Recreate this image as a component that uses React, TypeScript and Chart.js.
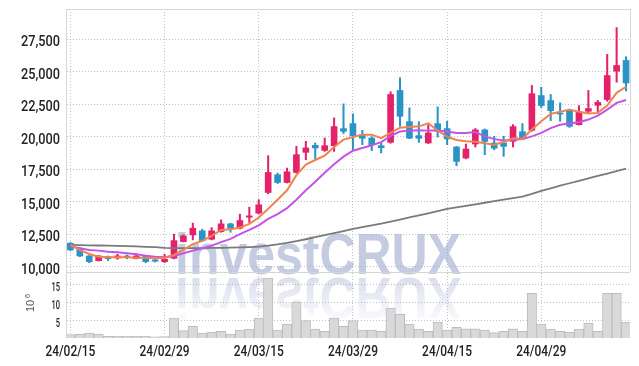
import React, { useEffect, useRef } from "react";
import { Chart, registerables } from "chart.js";

Chart.register(...registerables);

const dates = [
  "24/02/15", "24/02/16", "24/02/19", "24/02/20", "24/02/21", "24/02/22", "24/02/23", "24/02/26", "24/02/27", "24/02/28",
  "24/02/29", "24/03/04", "24/03/05", "24/03/06", "24/03/07", "24/03/08", "24/03/11", "24/03/12", "24/03/13", "24/03/14",
  "24/03/15", "24/03/18", "24/03/19", "24/03/20", "24/03/21", "24/03/22", "24/03/25", "24/03/26", "24/03/27", "24/03/28",
  "24/03/29", "24/04/01", "24/04/02", "24/04/03", "24/04/04", "24/04/05", "24/04/08", "24/04/09", "24/04/11", "24/04/12",
  "24/04/15", "24/04/16", "24/04/17", "24/04/18", "24/04/19", "24/04/22", "24/04/23", "24/04/24", "24/04/25", "24/04/26",
  "24/04/29", "24/04/30", "24/05/02", "24/05/03", "24/05/07", "24/05/08", "24/05/09", "24/05/10", "24/05/13", "24/05/14",
];

const opens = [
  11805, 11420, 10825, 10460, 10770, 10670, 10825, 10620, 10825, 10520,
  10385, 10650, 11930, 12445, 12755, 12110, 12700, 13295, 12960, 13810,
  14120, 15710, 17075, 16480, 17250, 18800, 19340, 18950, 19310, 20625,
  21010, 20160, 19900, 19310, 19570, 23560, 21165, 20085, 19520, 21010,
  20625, 19210, 18360, 19440, 20525, 19520, 19520, 19645, 20390, 20495,
  23170, 22785, 21820, 21960, 20930, 21960, 22415, 22860, 25045, 25870,
];

const highs = [
  11860, 11460, 10860, 10860, 10825, 10957, 10900, 10980, 10880, 10570,
  10957, 12500, 12450, 13350, 12885, 13010, 13600, 13350, 14040, 14580,
  15150, 18540, 17200, 17590, 19260, 19650, 19520, 19900, 21450, 22530,
  21760, 20490, 20000, 19570, 23460, 24540, 22220, 21165, 20930, 22300,
  21190, 19250, 19440, 20630, 20600, 20030, 20030, 20930, 21010, 23945,
  23810, 23250, 22610, 22050, 22400, 23560, 22800, 26335, 28395, 26160,
];

const lows = [
  11230, 10770, 10310, 10430, 10460, 10570, 10600, 10600, 10310, 10360,
  10310, 10600, 11900, 12060, 11930, 12060, 12650, 12650, 12900, 13400,
  14050, 15610, 16400, 16440, 17200, 18230, 18290, 18870, 18870, 20240,
  19000, 19390, 18930, 18750, 19500, 20800, 19850, 19570, 19480, 19980,
  19390, 17770, 18300, 19210, 18620, 19000, 18490, 19210, 19780, 20420,
  22250, 21240, 21190, 20720, 20900, 21800, 21810, 22730, 24200, 23520,
];

const closes = [
  11290, 10825, 10385, 10825, 10620, 10825, 10694, 10825, 10385, 10420,
  10570, 12005, 12370, 12960, 12005, 12755, 13295, 12960, 13550, 13910,
  14760, 17250, 16480, 17300, 18620, 19135, 19135, 19310, 20780, 20415,
  20085, 19880, 19390, 19160, 23250, 21575, 19890, 19880, 20290, 20420,
  19830, 18100, 19060, 20525, 19645, 19120, 19260, 20780, 19840, 23310,
  22400, 22010, 21745, 20800, 21910, 22170, 22650, 24710, 25485, 24135,
];

// volume in millions of shares
const volumes = [
  0.95, 1.0, 1.4, 1.1, 0.47, 0.47, 0.45, 0.45, 0.45, 0.3,
  0.4, 5.6, 2.1, 3.3, 1.4, 1.7, 1.9, 1.1, 2.25, 2.5,
  5.6, 16.9, 2.25, 3.9, 10.1, 4.9, 2.5, 1.9, 5.6, 3.3,
  4.9, 2.25, 2.25, 1.9, 8.4, 6.7, 3.9, 2.5, 1.9, 4.5,
  2.25, 3.0, 2.6, 2.6, 2.25, 1.5, 1.9, 2.6, 1.9, 12.6,
  3.9, 2.5, 1.9, 1.7, 2.5, 4.2, 1.9, 12.6, 12.6, 4.5,
];

const maShort = [
  11670, 11290, 10980, 10770, 10725, 10725, 10725, 10695, 10695, 10650,
  10695, 10900, 11290, 11730, 11980, 12370, 12830, 12885, 13010, 13295,
  13780, 14450, 15150, 15880, 17040, 17850, 18210, 18540, 19210, 19775,
  19985, 20160, 20160, 19890, 20290, 20700, 20740, 20800, 21035, 20470,
  20010, 19755, 19645, 19620, 19490, 19390, 19600, 19875, 19840, 20550,
  21190, 21760, 21915, 22090, 21915, 21780, 21835, 22400, 23380, 23845,
];

const maMid = [
  11545, 11420, 11290, 11235, 11155, 11110, 11035, 10955, 10850, 10770,
  10725, 10825, 11035, 11235, 11420, 11620, 11885, 12135, 12500, 12830,
  13180, 13680, 14050, 14505, 15145, 15880, 16535, 17230, 17885, 18465,
  18925, 19135, 19350, 19585, 20060, 20395, 20470, 20495, 20470, 20470,
  20395, 20280, 20280, 20355, 20030, 19815, 19715, 19740, 19815, 20030,
  20295, 20665, 20920, 21010, 21110, 21320, 21630, 22090, 22610, 22825,
];

const maLong = [
  11670, 11660, 11645, 11630, 11615, 11600, 11580, 11560, 11530, 11500,
  11450, 11430, 11420, 11420, 11430, 11440, 11450, 11470, 11490, 11510,
  11540, 11620, 11720, 11830, 11960, 12110, 12270, 12430, 12580, 12740,
  12900, 13040, 13170, 13310, 13470, 13630, 13790, 13950, 14110, 14270,
  14440, 14560, 14680, 14800, 14920, 15040, 15160, 15270, 15390, 15600,
  15830, 16030, 16230, 16420, 16610, 16800, 16990, 17170, 17360, 17540,
];

const xTickIndices = [0, 10, 20, 30, 40, 50];
const priceTicks = [10000, 12500, 15000, 17500, 20000, 22500, 25000, 27500];
const volumeTicks = [5, 10, 15];

const LABEL_FONT = '"Roboto", "Liberation Sans", sans-serif';
const UP = "#e3226b";
const DOWN = "#2b94c6";
const GRID = "rgba(165,170,200,0.75)";

function squeezedText(
  ctx: CanvasRenderingContext2D,
  text: string,
  x: number,
  y: number,
  font: string,
  targetWidthOfSample: number,
  sample: string,
  align: CanvasTextAlign
) {
  ctx.save();
  ctx.font = font;
  const sx = targetWidthOfSample / ctx.measureText(sample).width;
  ctx.translate(x, y);
  ctx.scale(sx, 1);
  ctx.textAlign = align;
  ctx.textBaseline = "alphabetic";
  ctx.fillText(text, 0, 0);
  ctx.restore();
}

export default function App() {
  const ref = useRef<HTMLCanvasElement | null>(null);

  useEffect(() => {
    if (!ref.current) return;
    const idx = dates.map((_, i) => i);
    const candleColors = idx.map((i) => (closes[i] >= opens[i] ? UP : DOWN));

    const decor = {
      id: "decor",
      beforeDatasetsDraw(chart: any) {
        const ctx = chart.ctx as CanvasRenderingContext2D;
        const a = chart.chartArea;
        ctx.save();
        ctx.beginPath();
        ctx.rect(a.left, a.top, a.right - a.left, a.bottom - a.top);
        ctx.clip();
        ctx.font = 'bold 58px "Liberation Sans", "DejaVu Sans", sans-serif';
        ctx.textAlign = "left";
        ctx.textBaseline = "alphabetic";
        ctx.fillStyle = "rgba(150,162,200,0.55)";
        ctx.fillText("investCRUX", 175, 274, 286);
        ctx.translate(0, 552);
        ctx.scale(1, -1);
        const g = ctx.createLinearGradient(0, 274, 0, 236);
        g.addColorStop(0, "rgba(150,162,200,0.34)");
        g.addColorStop(1, "rgba(150,162,200,0.08)");
        ctx.fillStyle = g;
        ctx.fillText("investCRUX", 175, 274, 286);
        ctx.restore();
      },
      afterDraw(chart: any) {
        const ctx = chart.ctx as CanvasRenderingContext2D;
        const a = chart.chartArea;
        const ys = chart.scales.y;
        const yv = chart.scales.yv;
        const xs = chart.scales.x;
        const sep = ys.bottom;
        ctx.save();
        ctx.strokeStyle = "#d6d6d6";
        ctx.lineWidth = 1;
        ctx.beginPath();
        ctx.moveTo(a.left - 0.5, a.top);
        ctx.lineTo(a.left - 0.5, a.bottom);
        ctx.moveTo(a.left, a.top + 0.5);
        ctx.lineTo(a.right, a.top + 0.5);
        ctx.moveTo(a.right + 0.5, a.top);
        ctx.lineTo(a.right + 0.5, sep);
        ctx.moveTo(a.left, Math.round(sep) + 0.5);
        ctx.lineTo(a.right, Math.round(sep) + 0.5);
        ctx.stroke();
        ctx.restore();

        // tick labels (condensed look)
        ctx.save();
        ctx.fillStyle = "#222";
        const pf = `500 14px ${LABEL_FONT}`;
        for (const v of priceTicks) {
          const py = ys.getPixelForValue(v);
          squeezedText(ctx, v.toLocaleString("en-US"), 60, py + 7, pf, 39, "27,500", "right");
        }
        const vf = `500 13px ${LABEL_FONT}`;
        for (const v of volumeTicks) {
          const py = yv.getPixelForValue(v);
          squeezedText(ctx, String(v), 60, py + 6.5, vf, 8.5, "15", "right");
        }
        const df = `500 15px ${LABEL_FONT}`;
        for (const i of xTickIndices) {
          const px = xs.getPixelForValue(i);
          squeezedText(ctx, dates[i], px, 356, df, 50, "24/02/15", "center");
        }
        ctx.restore();

        // volume unit label
        ctx.save();
        ctx.translate(34, 312);
        ctx.rotate(-Math.PI / 2);
        ctx.fillStyle = "#555";
        ctx.textAlign = "left";
        ctx.textBaseline = "alphabetic";
        ctx.font = '11px "Liberation Sans", sans-serif';
        ctx.fillText("10", 0, 0);
        const w = ctx.measureText("10").width;
        ctx.font = '8px "Liberation Sans", sans-serif';
        ctx.fillText("6", w + 1.5, -4);
        ctx.restore();
      },
    };

    const zeroPad = (s: any) => {
      s.paddingTop = 0;
      s.paddingBottom = 0;
      s.paddingLeft = 0;
      s.paddingRight = 0;
    };

    const chart = new Chart(ref.current, {
      data: {
        datasets: [
          {
            type: "line",
            label: "MA short",
            data: idx.map((i) => ({ x: i, y: maShort[i] })),
            yAxisID: "y",
            borderColor: "#ef8350",
            borderWidth: 2,
            pointRadius: 0,
            fill: false,
            order: 0,
          },
          {
            type: "line",
            label: "MA mid",
            data: idx.map((i) => ({ x: i, y: maMid[i] })),
            yAxisID: "y",
            borderColor: "#c653e6",
            borderWidth: 2,
            pointRadius: 0,
            fill: false,
            order: 1,
          },
          {
            type: "line",
            label: "MA long",
            data: idx.map((i) => ({ x: i, y: maLong[i] })),
            yAxisID: "y",
            borderColor: "#7a7a7a",
            borderWidth: 1.8,
            pointRadius: 0,
            fill: false,
            order: 2,
          },
          {
            type: "bar",
            label: "body",
            data: idx.map((i) => ({ x: i, y: [opens[i], closes[i]] })),
            yAxisID: "y",
            backgroundColor: candleColors,
            borderWidth: 0,
            barThickness: 6,
            grouped: false,
            order: 3,
          },
          {
            type: "bar",
            label: "wick",
            data: idx.map((i) => ({ x: i, y: [lows[i], highs[i]] })),
            yAxisID: "y",
            backgroundColor: candleColors,
            borderWidth: 0,
            barThickness: 1.4,
            grouped: false,
            order: 4,
          },
          {
            type: "bar",
            label: "volume",
            data: idx.map((i) => ({ x: i, y: volumes[i] })),
            yAxisID: "yv",
            backgroundColor: "#d9d9d9",
            borderColor: "#bdbdbd",
            borderWidth: 1,
            barPercentage: 1,
            categoryPercentage: 1,
            grouped: false,
            order: 5,
          },
        ],
      } as any,
      options: {
        animation: false,
        responsive: false,
        maintainAspectRatio: false,
        devicePixelRatio: 1,
        layout: { padding: { top: 9, right: 9, left: 0, bottom: 0 } },
        plugins: { legend: { display: false }, tooltip: { enabled: false } },
        scales: {
          x: {
            type: "linear",
            position: "bottom",
            offset: false,
            min: -0.36,
            max: 59.42,
            grid: { color: GRID, lineWidth: 1, drawTicks: false, offset: false },
            border: { display: false, dash: [1, 2] },
            ticks: { display: false, autoSkip: false },
            afterBuildTicks: (s: any) => {
              s.ticks = xTickIndices.map((value) => ({ value }));
            },
            afterFit: (s: any) => {
              s.height = 28;
              zeroPad(s);
            },
          },
          y: {
            type: "linear",
            position: "left",
            offset: false,
            stack: "panels",
            stackWeight: 263,
            weight: 2,
            min: 9590,
            max: 29830,
            grid: { color: GRID, lineWidth: 1, drawTicks: false },
            border: { display: false, dash: [1, 2] },
            ticks: { display: false, autoSkip: false },
            afterBuildTicks: (s: any) => {
              s.ticks = priceTicks.map((value) => ({ value }));
            },
            afterFit: (s: any) => {
              s.width = 67;
              zeroPad(s);
            },
          },
          yv: {
            type: "linear",
            position: "left",
            offset: false,
            stack: "panels",
            stackWeight: 66,
            weight: 1,
            min: 0,
            max: 18.6,
            grid: { color: GRID, lineWidth: 1, drawTicks: false },
            border: { display: false, dash: [1, 2] },
            ticks: { display: false, autoSkip: false },
            afterBuildTicks: (s: any) => {
              s.ticks = volumeTicks.map((value) => ({ value }));
            },
            afterFit: (s: any) => {
              s.width = 67;
              zeroPad(s);
            },
          },
        },
      } as any,
      plugins: [decor],
    });

    return () => chart.destroy();
  }, []);

  return (
    <div style={{ position: "fixed", left: 0, top: 0, width: 639, height: 366, background: "#fff" }}>
      <canvas ref={ref} width={639} height={366} style={{ display: "block", width: 639, height: 366 }} />
    </div>
  );
}
